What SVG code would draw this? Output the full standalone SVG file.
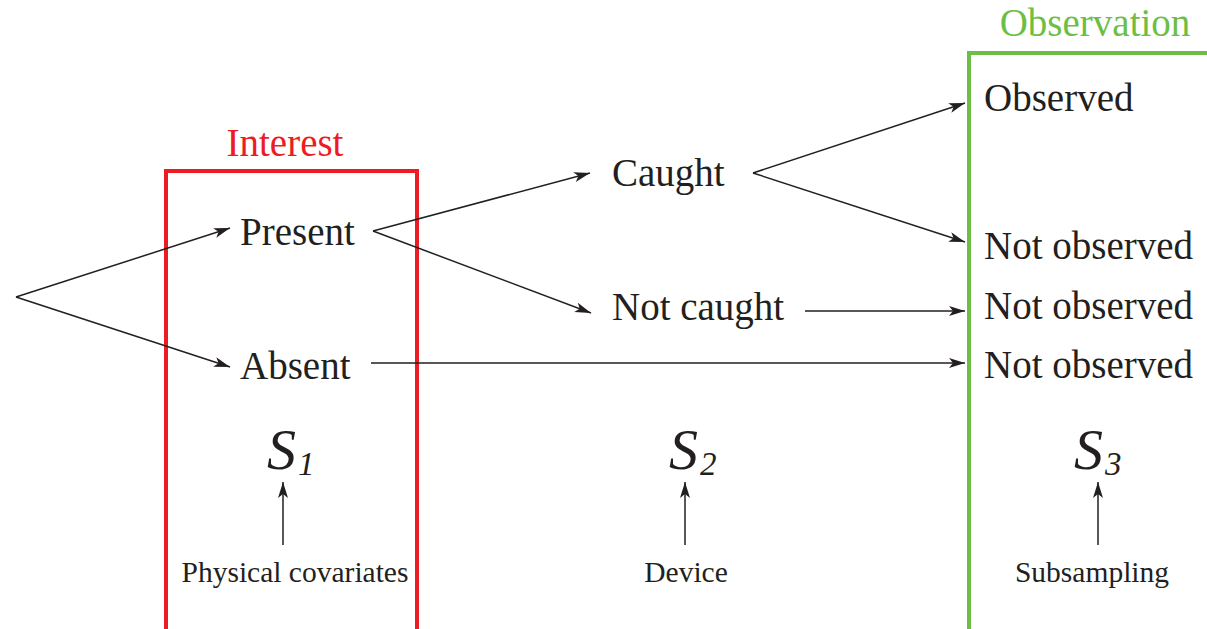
<svg xmlns="http://www.w3.org/2000/svg" width="1207" height="629" viewBox="0 0 1207 629">
<style>
.t{font-family:"Liberation Serif","Times New Roman",serif;font-size:39px;fill:#231f20}
.s{font-family:"Liberation Serif","Times New Roman",serif;font-style:italic;fill:#231f20}
.c{font-family:"Liberation Serif","Times New Roman",serif;font-size:29.5px;fill:#231f20;text-anchor:middle}
.e{stroke:#231f20;stroke-width:1.5;fill:none;marker-end:url(#ah)}
</style>
<defs>
<marker id="ah" markerUnits="userSpaceOnUse" markerWidth="20" markerHeight="12" refX="16" refY="5" orient="auto">
<path d="M0,0 L16,5 L0,10 L4,5 Z" fill="#231f20"/>
</marker>
</defs>
<rect width="1207" height="629" fill="#fff"/>
<g id="interest">
<path d="M166,629 V171 H417 V629" fill="none" stroke="#ed1c24" stroke-width="4"/>
<text x="285" y="156" text-anchor="middle" style="font-family:'Liberation Serif',serif;font-size:39px;fill:#ed1c24">Interest</text>
</g>
<g id="observation">
<path d="M969,629 V53 H1207" fill="none" stroke="#6dbe45" stroke-width="4"/>
<text x="1095" y="36" text-anchor="middle" style="font-family:'Liberation Serif',serif;font-size:39px;fill:#6dbe45">Observation</text>
</g>
<g id="connectors">
<path class="e" d="M16,297 L230,228"/>
<path class="e" d="M16,297 L230,367"/>
<path class="e" d="M373,231 L590,173"/>
<path class="e" d="M373,231 L591,313"/>
<path class="e" d="M753,173 L965,103"/>
<path class="e" d="M753,173 L965,242"/>
<path class="e" d="M805,311 L965,311"/>
<path class="e" d="M371,363 L965,363"/>
<path class="e" d="M283,545 L283,482"/>
<path class="e" d="M685,545 L685,482"/>
<path class="e" d="M1098,545 L1098,482"/>
</g>
<g id="present"><text class="t" x="240" y="245">Present</text></g>
<g id="absent"><text class="t" x="240" y="379">Absent</text></g>
<g id="caught"><text class="t" x="612" y="186">Caught</text></g>
<g id="notcaught"><text class="t" x="612" y="320">Not caught</text></g>
<g id="observed"><text class="t" x="984" y="111">Observed</text></g>
<g id="notobs1"><text class="t" x="984" y="259">Not observed</text></g>
<g id="notobs2"><text class="t" x="984" y="319">Not observed</text></g>
<g id="notobs3"><text class="t" x="984" y="378">Not observed</text></g>
<g id="s1"><text class="s" x="267" y="469" font-size="58">S<tspan font-size="33" dx="2" dy="6">1</tspan></text></g>
<g id="s2"><text class="s" x="669" y="469" font-size="58">S<tspan font-size="33" dx="2" dy="6">2</tspan></text></g>
<g id="s3"><text class="s" x="1074" y="469" font-size="58">S<tspan font-size="33" dx="2" dy="6">3</tspan></text></g>
<g id="cov"><text class="c" x="295" y="582">Physical covariates</text></g>
<g id="dev"><text class="c" x="686" y="582">Device</text></g>
<g id="sub"><text class="c" x="1092" y="582">Subsampling</text></g>
</svg>
